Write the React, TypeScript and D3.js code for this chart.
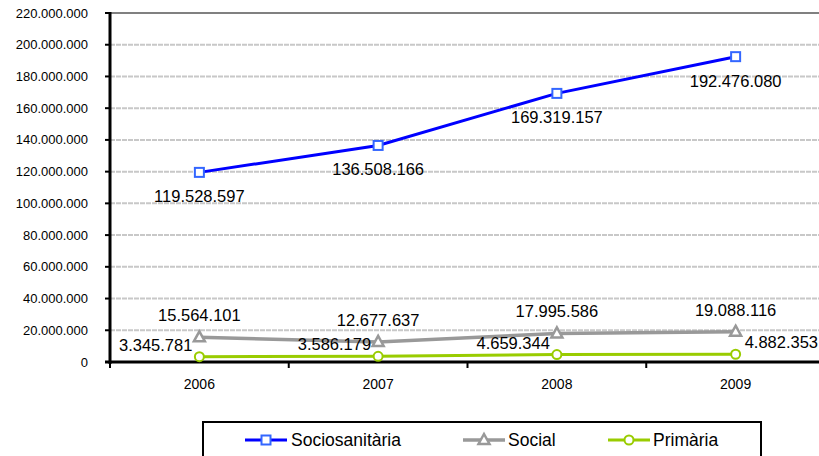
import React from "react";
import * as d3 from "d3";

const years = ["2006", "2007", "2008", "2009"];
const sociosanitaria = [119528597, 136508166, 169319157, 192476080];
const social = [15564101, 12677637, 17995586, 19088116];
const primaria = [3345781, 3586179, 4659344, 4882353];
const yTicks = [0, 20e6, 40e6, 60e6, 80e6, 100e6, 120e6, 140e6, 160e6, 180e6, 200e6, 220e6];

const fmt = (v: number) => {
  const s = Math.round(v).toString();
  return s.replace(/\B(?=(\d{3})+(?!\d))/g, ".");
};

const FONT = "'Liberation Sans', Arial, sans-serif";

export default function App() {
  const W = 819, H = 456;
  const left = 110, right = 825, top = 13, bottom = 362;
  const x = d3.scaleBand<string>().domain(years).range([left, right]);
  const cx = (d: string) => (x(d) as number) + x.bandwidth() / 2;
  const y = d3.scaleLinear().domain([0, 220e6]).range([bottom, top]);
  const line = d3.line<number>().x((_, i) => cx(years[i])).y((v) => y(v));

  const blue = "#0000FF", blueM = "#3366FF", gray = "#999999", green = "#99CC00";

  const square = (px: number, py: number, key: string) => (
    <rect key={key} x={px - 4.5} y={py - 4.5} width={9} height={9} fill="#fff" stroke={blueM} strokeWidth={2} />
  );
  const tri = (px: number, py: number, key: string) => (
    <path key={key} d={`M${px},${py - 6}L${px + 5.5},${py + 4}L${px - 5.5},${py + 4}Z`} fill="#fff" stroke={gray} strokeWidth={2.5} />
  );
  const circ = (px: number, py: number, key: string) => (
    <circle key={key} cx={px} cy={py} r={4.5} fill="#fff" stroke={green} strokeWidth={2} />
  );

  const boundaries = [...years.map((d) => x(d) as number), right];

  return (
    <svg width={W} height={H} style={{ position: "absolute", left: 0, top: 0, background: "#fff" }} fontFamily={FONT}>
      {/* grid */}
      {yTicks.slice(1).map((t) => (
        <line key={"g" + t} x1={left} x2={W} y1={y(t)} y2={y(t)}
          stroke={t === 220e6 ? "#808080" : "#c8c8c8"} strokeWidth={2}
          strokeDasharray={t === 220e6 ? undefined : "5,1"} />
      ))}
      {/* y ticks and labels */}
      {yTicks.map((t) => (
        <g key={"yt" + t}>
          <line x1={left - 5} x2={left} y1={y(t)} y2={y(t)} stroke="#000" strokeWidth={2} />
          <text x={left - 22} y={y(t)} dy="0.35em" textAnchor="end" fontSize={13} fill="#000">{fmt(t)}</text>
        </g>
      ))}
      {/* x ticks */}
      {boundaries.map((b, i) => (
        <line key={"xt" + i} x1={b} x2={b} y1={bottom} y2={bottom + 6} stroke="#000" strokeWidth={2} />
      ))}
      {years.map((d) => (
        <text key={"xl" + d} x={cx(d)} y={389} textAnchor="middle" fontSize={14} fill="#000">{d}</text>
      ))}
      {/* axes */}
      <line x1={left} x2={left} y1={top - 1} y2={bottom + 2} stroke="#000" strokeWidth={3} />
      <line x1={left - 5} x2={W} y1={bottom} y2={bottom} stroke="#000" strokeWidth={3} />

      {/* series lines */}
      <path d={line(primaria) as string} fill="none" stroke={green} strokeWidth={3} />
      <path d={line(social) as string} fill="none" stroke={gray} strokeWidth={3.5} />
      <path d={line(sociosanitaria) as string} fill="none" stroke={blue} strokeWidth={3} />

      {/* markers */}
      {primaria.map((v, i) => circ(cx(years[i]), y(v), "pc" + i))}
      {social.map((v, i) => tri(cx(years[i]), y(v), "st" + i))}
      {sociosanitaria.map((v, i) => square(cx(years[i]), y(v), "ss" + i))}

      {/* labels */}
      {sociosanitaria.map((v, i) => (
        <text key={"ls" + i} x={cx(years[i])} y={y(v) + 30} textAnchor="middle" fontSize={16.5} fill="#000">{fmt(v)}</text>
      ))}
      {social.map((v, i) => (
        <text key={"lo" + i} x={cx(years[i])} y={y(v) - 16} textAnchor="middle" fontSize={16.5} fill="#000">{fmt(v)}</text>
      ))}
      {primaria.map((v, i) => {
        const last = i === primaria.length - 1;
        return (
          <text key={"lp" + i} x={cx(years[i]) + (last ? 9 : -7)} y={y(v) - 6}
            textAnchor={last ? "start" : "end"} fontSize={16.5} fill="#000">{fmt(v)}</text>
        );
      })}

      {/* legend */}
      <rect x={203} y={422} width={558} height={40} fill="#fff" stroke="#000" strokeWidth={2} />
      <line x1={245} x2={287} y1={440} y2={440} stroke={blue} strokeWidth={3} />
      {square(266, 440, "lgs")}
      <text x={291} y={440} dy="0.35em" fontSize={17.5} fill="#000">Sociosanitària</text>
      <line x1={463} x2={505} y1={440} y2={440} stroke={gray} strokeWidth={3.5} />
      {tri(484, 440, "lgt")}
      <text x={508} y={440} dy="0.35em" fontSize={17.5} fill="#000">Social</text>
      <line x1={608} x2={650} y1={440} y2={440} stroke={green} strokeWidth={3} />
      {circ(629, 440, "lgc")}
      <text x={653} y={440} dy="0.35em" fontSize={17.5} fill="#000">Primària</text>
    </svg>
  );
}
